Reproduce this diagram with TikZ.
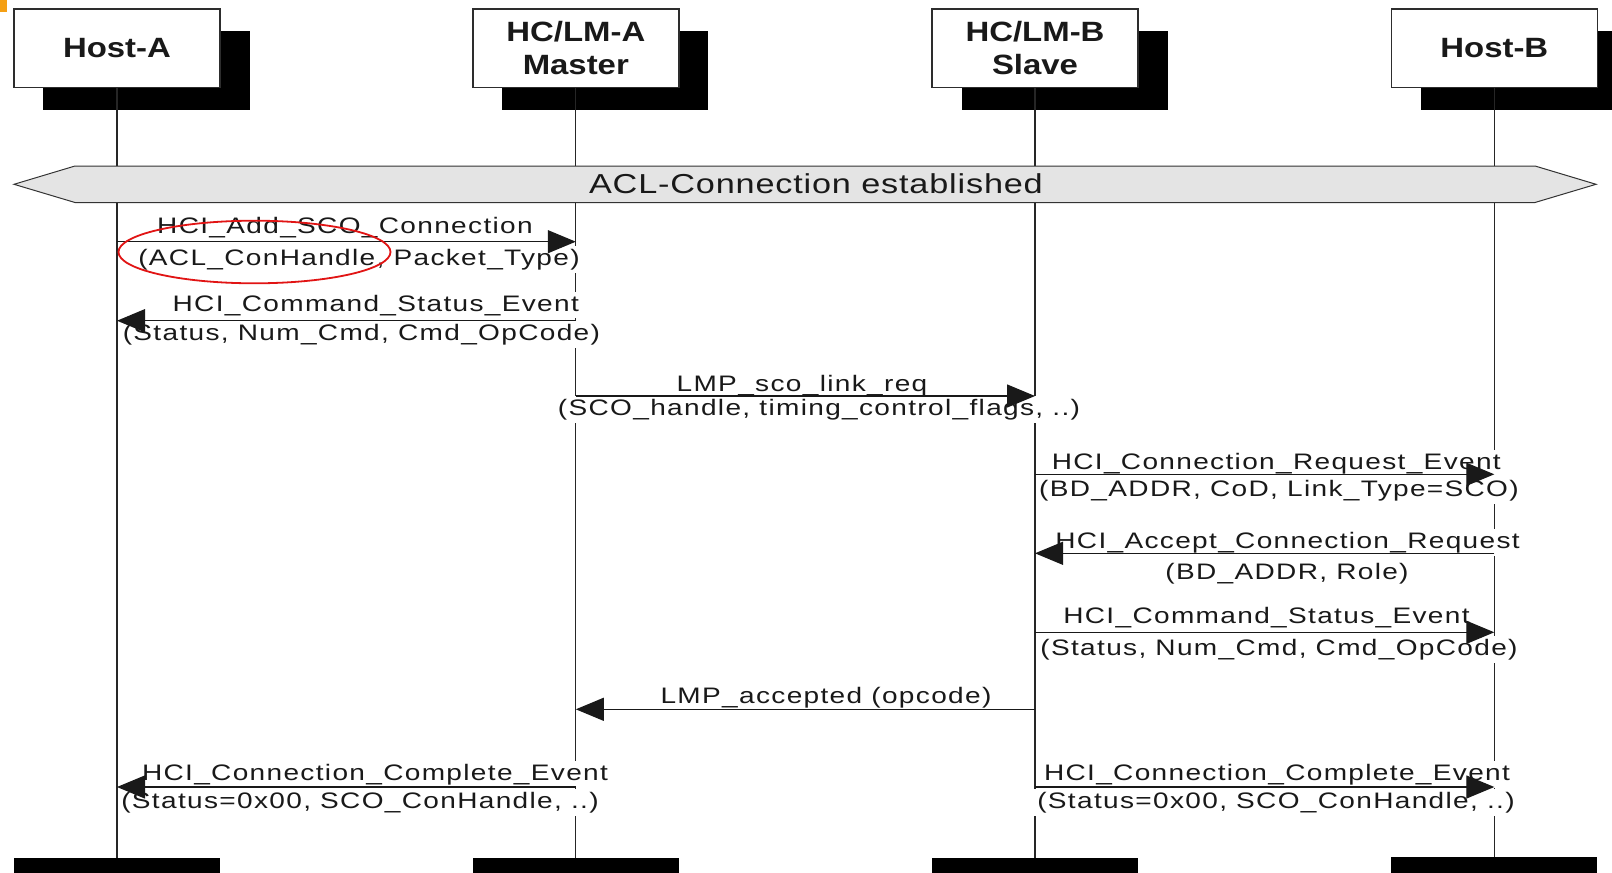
\documentclass[tikz,border=0pt]{standalone}
\usepackage{fontspec}
\setmainfont{Liberation Sans}[FakeStretch=1.25, LetterSpace=6]
\newfontfamily\bannerfont{Liberation Sans}[FakeStretch=1.25, LetterSpace=3]
\newfontfamily\headfont{Liberation Sans}[FakeStretch=1.18]
\usetikzlibrary{arrows.meta,shapes.geometric}

\definecolor{boxedge}{RGB}{45,45,45}
\definecolor{bannerfill}{RGB}{228,228,228}
\definecolor{tabmark}{RGB}{245,160,20}
\definecolor{markred}{RGB}{225,20,20}
\definecolor{ink}{RGB}{25,25,25}

\tikzset{
  headbox/.style={draw=boxedge, line width=1.5bp, fill=white, text=ink,
    minimum width=206bp, minimum height=78.7bp, inner sep=0pt, align=center,
    font=\headfont\bfseries\fontsize{28}{33}\selectfont},
  shadowbox/.style={fill=black, minimum width=206bp, minimum height=78.7bp, inner sep=0pt},
  endbar/.style={fill=black, minimum width=206bp, minimum height=22bp, inner sep=0pt},
  lifeline/.style={line width=1.3bp, draw=black!85},
  banner/.style={draw=black!80, line width=1bp, fill=bannerfill},
  bannertext/.style={anchor=base, inner sep=0pt, text=ink, font=\bannerfont\fontsize{27.5}{32}\selectfont},
  msgtext/.style={anchor=base, fill=white, inner sep=3bp, text=ink, font=\fontsize{22.5}{27}\selectfont},
  msg/.style={line width=1.3bp, draw=black!90, -{Triangle[length=28bp,width=23bp]}},
  circled/.style={draw=markred, line width=1.8bp},
}

\begin{document}
\begin{tikzpicture}[x=1bp,y=-1bp]
\useasboundingbox (0,0) rectangle (1612,872);
\fill[white] (0,0) rectangle (1612,872);
\fill[tabmark] (0,0) rectangle (7,12);

% drop shadows of the instance heads
\node[shadowbox] (hAs) at (146.5,70.35) {};
\node[shadowbox] (mAs) at (605.3,70.35) {};
\node[shadowbox] (sBs) at (1064.5,70.35) {};
\node[shadowbox] (hBs) at (1523.8,70.35) {};

% instance heads
\node[headbox] (hA) at (117,48.35) {Host-A};
\node[headbox] (mA) at (575.8,48.35) {HC/LM-A\\Master};
\node[headbox] (sB) at (1035,48.35) {HC/LM-B\\Slave};
\node[headbox] (hB) at (1494.3,48.35) {Host-B};

% instance ends
\node[endbar] (hAe) at (117,869) {};
\node[endbar] (mAe) at (575.8,869) {};
\node[endbar] (sBe) at (1035,869) {};
\node[endbar] (hBe) at (1494.3,867.7) {};

% lifelines
\draw[lifeline] (hA.south) -- (hAe.north);
\draw[lifeline] (mA.south) -- (mAe.north);
\draw[lifeline] (sB.south) -- (sBe.north);
\draw[lifeline] (hB.south) -- (hBe.north);

% condition spanning all instances
\draw[banner] (14,184.3) -- (75,166) -- (1535,166) -- (1596,184.3) -- (1535,202.5) -- (75,202.5) -- cycle;
\node[bannertext] (acl) at (816,193.5) {ACL-Connection established};

% message labels
\node[msgtext] (t1a) at (345,233.3) {HCI\_Add\_SCO\_Connection};
\node[msgtext] (t1b) at (359,265) {(ACL\_ConHandle, Packet\_Type)};
\node[msgtext] (t2a) at (375.8,311) {HCI\_Command\_Status\_Event};
\node[msgtext] (t2b) at (361.4,340) {(Status, Num\_Cmd, Cmd\_OpCode)};
\node[msgtext] (t3a) at (802,391.5) {LMP\_sco\_link\_req};
\node[msgtext] (t3b) at (819,415) {(SCO\_handle, timing\_control\_flags, ..)};
\node[msgtext] (t4a) at (1276.3,469.3) {HCI\_Connection\_Request\_Event};
\node[msgtext] (t4b) at (1279,496.7) {(BD\_ADDR, CoD, Link\_Type=SCO)};
\node[msgtext] (t5a) at (1287.6,548.3) {HCI\_Accept\_Connection\_Request};
\node[msgtext] (t5b) at (1287,579.3) {(BD\_ADDR, Role)};
\node[msgtext] (t6a) at (1266.5,623.3) {HCI\_Command\_Status\_Event};
\node[msgtext] (t6b) at (1279,655) {(Status, Num\_Cmd, Cmd\_OpCode)};
\node[msgtext] (t7a) at (826,703.3) {LMP\_accepted (opcode)};
\node[msgtext] (t8a) at (375,780) {HCI\_Connection\_Complete\_Event};
\node[msgtext] (t8b) at (360,808) {(Status=0x00, SCO\_ConHandle, ..)};
\node[msgtext] (t9a) at (1277,780) {HCI\_Connection\_Complete\_Event};
\node[msgtext] (t9b) at (1276,808) {(Status=0x00, SCO\_ConHandle, ..)};

% message end points on the lifelines
\coordinate (m1s) at (117,241.7);    \coordinate (m1e) at (575.8,241.7);
\coordinate (m2s) at (575.8,320.7);  \coordinate (m2e) at (117,320.7);
\coordinate (m3s) at (575.8,396);    \coordinate (m3e) at (1035,396);
\coordinate (m4s) at (1035,474.3);   \coordinate (m4e) at (1494.3,474.3);
\coordinate (m5s) at (1494.3,553.3); \coordinate (m5e) at (1035,553.3);
\coordinate (m6s) at (1035,632.3);   \coordinate (m6e) at (1494.3,632.3);
\coordinate (m7s) at (1035,709.3);   \coordinate (m7e) at (575.8,709.3);
\coordinate (m8s) at (575.8,787);    \coordinate (m8e) at (117,787);
\coordinate (m9s) at (1035,787);     \coordinate (m9e) at (1494.3,787);

% messages
\draw[msg] (m1s) -- (m1e);
\draw[msg] (m2s) -- (m2e);
\draw[msg] (m3s) -- (m3e);
\draw[msg] (m4s) -- (m4e);
\draw[msg] (m5s) -- (m5e);
\draw[msg] (m6s) -- (m6e);
\draw[msg] (m7s) -- (m7e);
\draw[msg] (m8s) -- (m8e);
\draw[msg] (m9s) -- (m9e);

% highlighted parameter
\node[circled, ellipse, minimum width=272bp, minimum height=62.6bp, inner sep=0pt] (hl) at (254.5,252) {};
\end{tikzpicture}
\end{document}
